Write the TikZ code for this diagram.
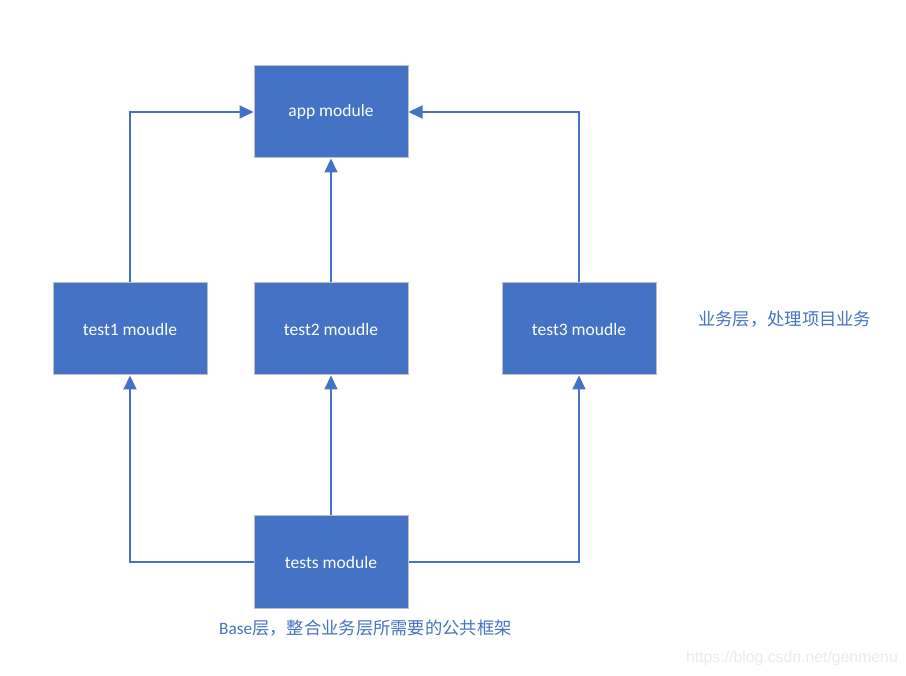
\documentclass[tikz,border=0pt]{standalone}
\usepackage{fontspec}
\setmainfont{Carlito}
\newfontfamily\cjk{Noto Sans CJK SC}
\newfontfamily\wmfont{Liberation Sans}
\usetikzlibrary{arrows.meta}
\definecolor{boxblue}{HTML}{4472C4}
\definecolor{boxedge}{HTML}{BFBFBF}
\definecolor{wmgrey}{HTML}{EAEAEA}
\tikzset{
  modbox/.style={draw=boxedge, line width=1pt, fill=boxblue, minimum width=154pt, minimum height=92pt, inner sep=0pt, text=white, font=\fontsize{17.5}{20}\selectfont},
  conn/.style={draw=boxblue, line width=2pt, -{Triangle[length=14pt,width=13pt]}},
  note/.style={text=boxblue, font=\fontsize{17.3}{20}\selectfont, inner sep=0pt}
}
\begin{document}
\begin{tikzpicture}[x=1pt,y=-1pt]
\useasboundingbox (0,0) rectangle (906,676);
\node[modbox] (app) at (331,112) {app module};
\node[modbox] (t1) at (130,329) {test1 moudle};
\node[modbox] (t2) at (331,329) {test2 moudle};
\node[modbox] (t3) at (579,329) {test3 moudle};
\node[modbox] (base) at (331,562) {tests module};
\draw[conn] (t1.north) |- (app.west);
\draw[conn] (t3.north) |- (app.east);
\draw[conn] (t2.north) -- (app.south);
\draw[conn] (base.west) -| (t1.south);
\draw[conn] (base.north) -- (t2.south);
\draw[conn] (base.east) -| (t3.south);
\node[note, anchor=west] (n1) at (698,319) {\cjk 业务层，处理项目业务};
\node[note, anchor=west] (n2) at (219,628) {Base\cjk 层，整合业务层所需要的公共框架};
\node[anchor=east, inner sep=0pt, text=wmgrey, font=\wmfont\fontsize{15.8}{18}\selectfont] (wm) at (898,658) {https://blog.csdn.net/genmenu};
\end{tikzpicture}
\end{document}
